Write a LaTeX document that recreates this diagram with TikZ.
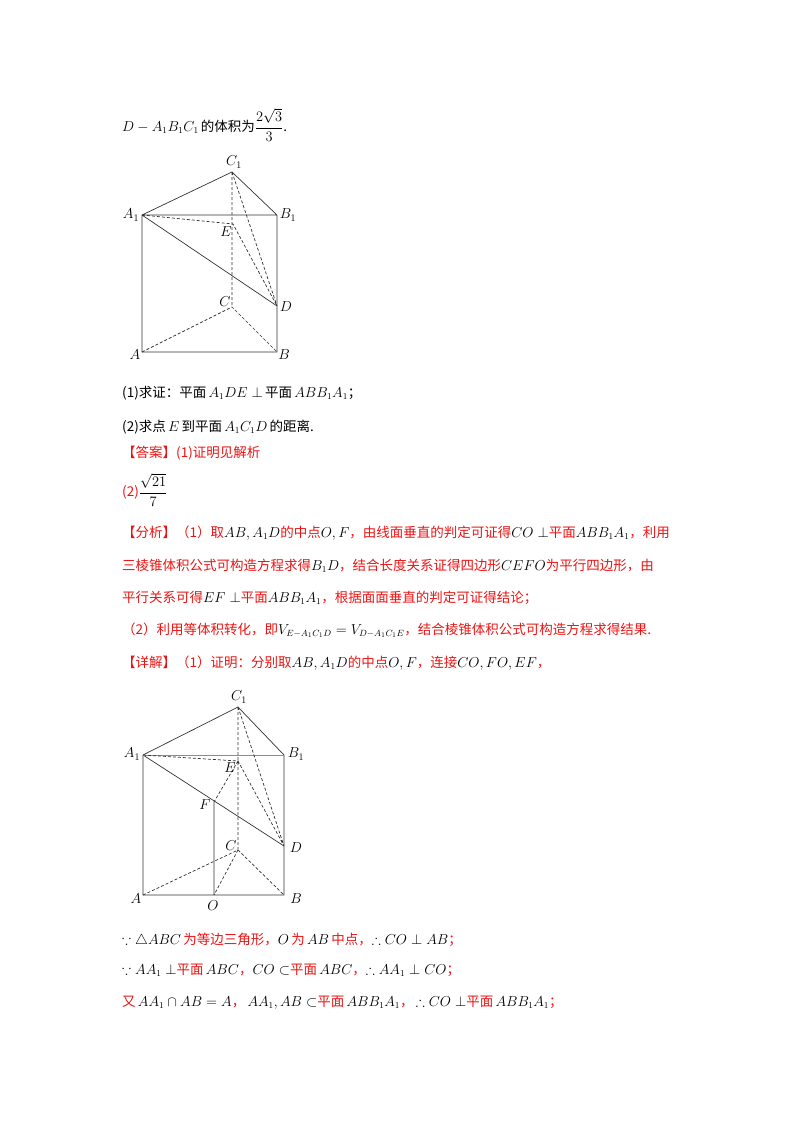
\documentclass[tikz,border=0pt]{standalone}
\usepackage{amsmath,amssymb}
\usepackage{fontspec}
\setmainfont{Noto Sans CJK SC}
\definecolor{rd}{RGB}{235,20,20}
\tikzset{ln/.style={line width=0.7pt,black!80},dl/.style={ln,dashed,dash pattern=on 3pt off 2pt},
 lb/.style={font=\fontsize{14.5}{16}\selectfont},
 tx/.style={anchor=west,inner sep=0pt,font=\fontsize{13.5}{16}\selectfont}}
\newcommand{\R}[1]{\textcolor{rd}{#1}}
\begin{document}
\begin{tikzpicture}[x=1pt,y=-1pt]
\useasboundingbox (0,0) rectangle (800,1132);
% figure 1
\coordinate (C1) at (232,172); \coordinate (A1) at (142,215); \coordinate (B1) at (277,215);
\coordinate (E) at (233,224); \coordinate (D) at (277,306); \coordinate (C) at (232,307);
\coordinate (A) at (142,352); \coordinate (B) at (277,352);
\draw[ln] (A1)--(C1)--(B1) (A1)--(B1) (A1)--(A)--(B)--(B1) (A1)--(D);
\draw[dl] (C1)--(C) (A1)--(E)--(D) (C1)--(D) (A)--(C)--(B);
\node[lb] at (234,162) {$C_1$}; \node[lb] at (131,215) {$A_1$}; \node[lb] at (288,215) {$B_1$};
\node[lb] at (226,232) {$E$}; \node[lb] at (286,307) {$D$}; \node[lb] at (225,302) {$C$};
\node[lb] at (135,355) {$A$}; \node[lb] at (284,355) {$B$};
% figure 2
\coordinate (c1) at (238,707); \coordinate (a1) at (143,755); \coordinate (b1) at (284,755);
\coordinate (e) at (238,761); \coordinate (f) at (214,802); \coordinate (d) at (284,846);
\coordinate (c) at (238,850); \coordinate (a) at (143,895); \coordinate (b) at (284,895);
\coordinate (o) at (214,895);
\draw[ln] (a1)--(c1)--(b1) (a1)--(a)--(b)--(b1) (a1)--(d) (f)--(o);
\draw[ln,black!45] (a1)--(b1);
\draw[dl] (c1)--(c) (a1)--(e)--(d) (c1)--(d) (e)--(f) (a)--(c)--(b) (c)--(o);
\node[lb] at (239,697) {$C_1$}; \node[lb] at (132,754) {$A_1$}; \node[lb] at (296,754) {$B_1$};
\node[lb] at (230,768) {$E$}; \node[lb] at (205,805) {$F$}; \node[lb] at (296,848) {$D$};
\node[lb] at (231,846) {$C$}; \node[lb] at (136,899) {$A$}; \node[lb] at (296,899) {$B$};
\node[lb] at (213,906) {$O$};
% text
\node[tx] at (122,125) {$D-A_1B_1C_1$\,的体积为$\dfrac{2\sqrt{3}}{3}$.};
\node[tx] at (122,393) {(1)求证：平面\,$A_1DE\perp$\,平面\,$ABB_1A_1$；};
\node[tx] at (122,427) {(2)求点\,$E$\,到平面\,$A_1C_1D$\,的距离.};
\node[tx] at (122,453) {\R{【答案】(1)证明见解析}};
\node[tx] at (122,490) {\R{(2)}$\dfrac{\sqrt{21}}{7}$};
\node[tx] at (122,533) {\R{【分析】（1）取}$AB,A_1D$\R{的中点}$O,F$\R{，由线面垂直的判定可证得}$CO\perp$\R{平面}$ABB_1A_1$\R{，利用}};
\node[tx] at (122,566) {\R{三棱锥体积公式可构造方程求得}$B_1D$\R{，结合长度关系证得四边形}$CEFO$\R{为平行四边形，由}};
\node[tx] at (122,598) {\R{平行关系可得}$EF\perp$\R{平面}$ABB_1A_1$\R{，根据面面垂直的判定可证得结论；}};
\node[tx] at (122,630) {\R{（2）利用等体积转化，即}$V_{E-A_1C_1D}=V_{D-A_1C_1E}$\R{，结合棱锥体积公式可构造方程求得结果.}};
\node[tx] at (122,663) {\R{【详解】（1）证明：分别取}$AB,A_1D$\R{的中点}$O,F$\R{，连接}$CO,FO,EF$\R{，}};
\node[tx] at (122,940) {$\because\triangle ABC$\,\R{为等边三角形，}$O$\,\R{为}\,$AB$\,\R{中点，}$\therefore CO\perp AB$\R{；}};
\node[tx] at (122,970) {$\because AA_1\perp$\R{平面}\,$ABC$\R{，}$CO\subset$\R{平面}\,$ABC$\R{，}$\therefore AA_1\perp CO$\R{；}};
\node[tx] at (122,1003) {\R{又}\,$AA_1\cap AB=A$\R{，}\,$AA_1,AB\subset$\R{平面}\,$ABB_1A_1$\R{，}\,$\therefore CO\perp$\R{平面}\,$ABB_1A_1$\R{；}};
\end{tikzpicture}
\end{document}
